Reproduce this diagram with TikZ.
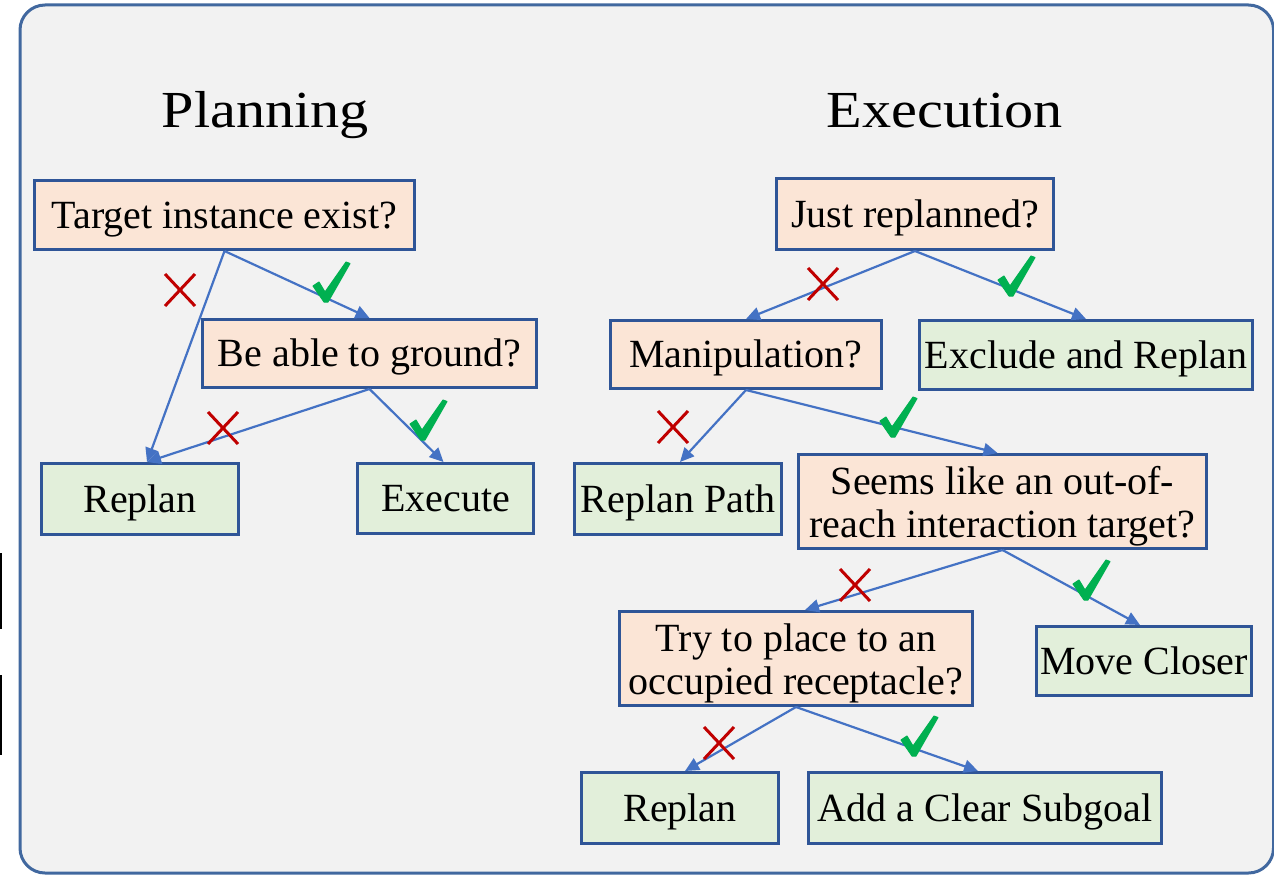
\documentclass[tikz,border=0pt]{standalone}
\usepackage{fontspec}
\setmainfont{Liberation Serif}
\usetikzlibrary{arrows.meta}
\definecolor{bg}{HTML}{F2F2F2}
\definecolor{frame}{HTML}{41689F}
\definecolor{boxline}{HTML}{2F5597}
\definecolor{qfill}{HTML}{FBE5D6}
\definecolor{afill}{HTML}{E2EFDA}
\definecolor{arrowc}{HTML}{4472C4}
\definecolor{crossc}{HTML}{C00000}
\definecolor{checkc}{HTML}{00B050}
\tikzset{
  box/.style={draw=boxline, line width=3pt, inner sep=0pt, text height=31pt, text depth=5pt},
  twoline/.style={box, text height=, text depth=, align=center},
  question/.style={box, fill=qfill},
  answer/.style={box, fill=afill},
  link/.style={draw=arrowc, line width=2.2pt, -{Triangle[length=14pt,width=13pt]}},
  title/.style={anchor=base, inner sep=0pt, font=\fontsize{52pt}{56pt}\selectfont},
  crossmark/.pic={\draw[crossc, line width=3pt] (-15,-16) -- (15,16) (-15,16) -- (15,-16);},
  checkmark/.pic={\filldraw[checkc, line width=1pt, line join=round]
      (0,24) -- (6,20) -- (12,30) -- (33,0) -- (37,1.5) -- (15,40) -- (11,40) -- cycle;}
}
\newcommand{\topstrut}{\rule{0pt}{37pt}}
\newcommand{\botstrut}{\rule[-9pt]{0pt}{9pt}}
\begin{document}
\begin{tikzpicture}[x=1pt, y=-1pt, font=\fontsize{40pt}{43pt}\selectfont]
\useasboundingbox (0,0) rectangle (1274,875);
\begin{scope}
\clip (0,0) rectangle (1274,875);
\draw[fill=bg, draw=frame, line width=3pt, rounded corners=25pt] (20,5) rectangle (1273.5,873);
\draw[black, line width=2pt] (1,553) -- (1,629) (1,675) -- (1,755);
\end{scope}

% titles
\node[title] (plan) at (265.5,127) {\scalebox{1.12}[1]{Planning}};
\node[title] (exec) at (945,127) {\scalebox{1.12}[1]{Execution}};

% planning
\node[question, minimum width=380pt, minimum height=69pt] (t) at (224.5,215) {Target instance exist?};
\node[question, minimum width=334pt, minimum height=68pt] (b) at (369.5,353.5) {Be able to ground?};
\node[answer, minimum width=197pt, minimum height=71pt] (rl) at (140,499) {Replan};
\node[answer, minimum width=176pt, minimum height=70pt] (ex) at (445.5,498.5) {Execute};

% execution
\node[question, minimum width=277pt, minimum height=71pt] (j) at (915,214) {Just replanned?};
\node[question, minimum width=271pt, minimum height=68pt] (m) at (746,354.5) {Manipulation?};
\node[answer, minimum width=333pt, minimum height=69pt] (exc) at (1086,355) {Exclude and Replan};
\node[answer, minimum width=207pt, minimum height=71pt] (rp) at (678,499) {Replan Path};
\node[question, twoline, minimum width=408pt, minimum height=94pt] (s) at (1002.5,501.5)
  {\topstrut Seems like an out-of-\\reach interaction target?\botstrut};
\node[question, twoline, minimum width=353pt, minimum height=94pt] (tr) at (796,658.5)
  {\topstrut Try to place to an\\occupied receptacle?\botstrut};
\node[answer, minimum width=215pt, minimum height=69pt] (mc) at (1144,661) {Move Closer};
\node[answer, minimum width=197pt, minimum height=71pt] (r2) at (680,808) {Replan};
\node[answer, minimum width=353pt, minimum height=71pt] (ad) at (985,808) {Add a Clear Subgoal};

% connectors
\draw[link] (t.south) -- ([xshift=7pt]rl.north);
\draw[link] (t.south) -- (b.north);
\draw[link] (b.south) -- ([xshift=7pt]rl.north);
\draw[link] (b.south) -- ([xshift=-2pt]ex.north);
\draw[link] (j.south) -- (m.north);
\draw[link] (j.south) -- (exc.north);
\draw[link] (m.south) -- ([xshift=2pt]rp.north);
\draw[link] (m.south) -- ([xshift=-5pt]s.north);
\draw[link] (s.south) -- ([xshift=9pt]tr.north);
\draw[link] (s.south) -- ([xshift=-4pt]mc.north);
\draw[link] (tr.south) -- ([xshift=5pt]r2.north);
\draw[link] (tr.south) -- ([xshift=-7pt]ad.north);

% marks
\pic at (180,290) {crossmark};
\pic at (223,428) {crossmark};
\pic at (823,284) {crossmark};
\pic at (673,427) {crossmark};
\pic at (855,585) {crossmark};
\pic at (719,743) {crossmark};
\pic at (313,262) {checkmark};
\pic at (410,400) {checkmark};
\pic at (998,256) {checkmark};
\pic at (880,397) {checkmark};
\pic at (1073,560) {checkmark};
\pic at (901,716) {checkmark};
\end{tikzpicture}
\end{document}
